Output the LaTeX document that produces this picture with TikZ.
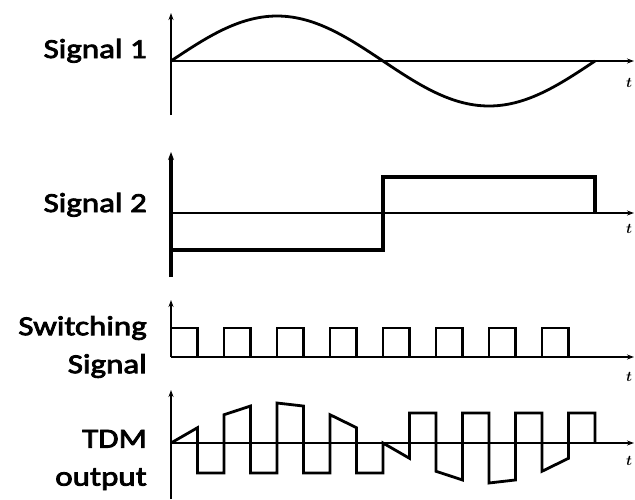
\documentclass[tikz,border=0pt]{standalone}
\usepackage{fontspec}
\newfontfamily\lblfont[FakeStretch=1.2, FakeBold=3]{Carlito}
\usetikzlibrary{arrows.meta}

\begin{document}
\begin{tikzpicture}[x=1pt, y=-1pt]

\tikzset{axis/.style={line width=1.6pt, -{Stealth[length=7pt, width=5pt]}}}
\tikzset{wave/.style={line width=2.8pt, line join=miter}}
\tikzset{sigtext/.style={align=right, inner sep=0pt, font=\lblfont\fontsize{27.5}{38}\selectfont}}
\tikzset{tlabel/.style={inner sep=0pt, font=\fontsize{15}{15}\selectfont\boldmath}}

\useasboundingbox (0,0) rectangle (635,499);

% signal names
\node[sigtext, anchor=base east] at (147,58) (s1) {Signal 1};
\node[sigtext, anchor=base east] at (147,212) (s2) {Signal 2};
\node[sigtext, anchor=east] at (147,347) (sw) {Switching\\Signal};
\node[sigtext, anchor=east] at (147,460) (tdm) {TDM\\output};

% signal 1
\draw[axis] (171,115) -- (171,13);
\draw[axis] (171,61) -- (634,61);
\draw[wave] plot[domain=0:424, samples=80, smooth] ({171+\x},{61-45*sin(\x/424*360)});
\node[tlabel] at (629,83) (t1) {$t$};

% signal 2
\draw[line width=4pt, -{Stealth[length=8pt, width=6pt]}] (171,277) -- (171,152);
\draw[axis] (171,213) -- (634,213);
\draw[line width=4.5pt] (171,250) -- (383,250) -- (383,177) -- (595,177) -- (595,213);
\node[tlabel] at (629,229) (t2) {$t$};

% switching signal
\draw[axis] (171,357) -- (171,300);
\draw[axis] (171,357) -- (634,357);
\draw[line width=2.4pt] (171,357) \foreach \k in {0,...,7} {
  -- ({171+53*\k},357) -- ({171+53*\k},328) -- ({197.5+53*\k},328) -- ({197.5+53*\k},357)};
\node[tlabel] at (629,377) (t3) {$t$};

% tdm output
\draw[axis] (171,499) -- (171,390);
\draw[axis] (171,443) -- (634,443);
\draw[wave] (171,443) \foreach \k in {0,...,7} {
  -- ({171+53*\k},{443-40*sin(45*\k)}) -- ({197.5+53*\k},{443-40*sin(45*\k+22.5)})
  -- ({197.5+53*\k},{473-60*(\k>3)}) -- ({224+53*\k},{473-60*(\k>3)})} -- (595,443);
\node[tlabel] at (629,461) (t4) {$t$};

\end{tikzpicture}
\end{document}
